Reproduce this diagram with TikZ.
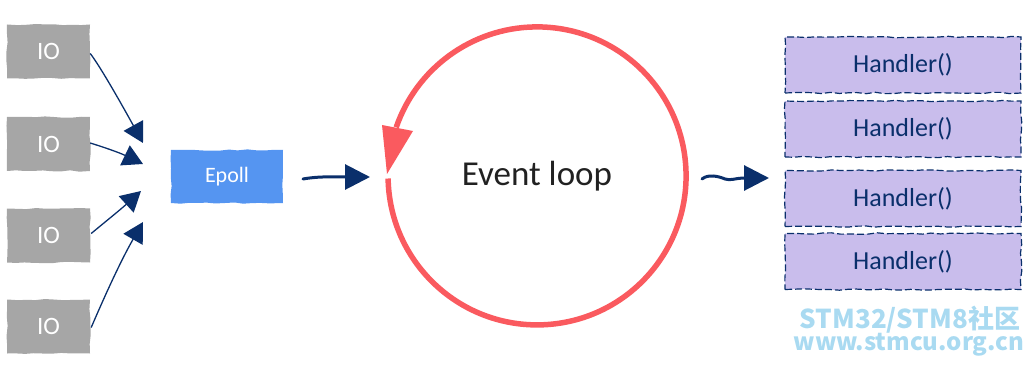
\documentclass[tikz,border=0pt]{standalone}
\usepackage{fontspec}
\setmainfont{Carlito}
\newfontfamily\cjkfont{Noto Sans CJK SC}
\usetikzlibrary{arrows.meta,decorations.pathmorphing}
\definecolor{iogray}{HTML}{A6A6A6}
\definecolor{epblue}{HTML}{5595F1}
\definecolor{loopred}{HTML}{FA5A5F}
\definecolor{navy}{HTML}{0A2F6B}
\definecolor{lavender}{HTML}{C9BDEC}
\definecolor{wmblue}{HTML}{A9DAF1}
\begin{document}
\pgfmathsetseed{7}
\begin{tikzpicture}[x=1pt,y=-1pt,
  rough/.style={decorate, decoration={random steps, segment length=9pt, amplitude=0.7pt}},
  iobox/.style={fill=iogray, rough, minimum width=83pt, minimum height=54pt, inner sep=0pt,
    text=white, font=\fontsize{25}{27}\selectfont},
  epbox/.style={fill=epblue, rough, minimum width=112pt, minimum height=53pt, inner sep=0pt,
    text=white, font=\fontsize{22}{24}\selectfont},
  hbox/.style={fill=lavender, draw=navy, line width=1.2pt, dash pattern=on 7pt off 3pt,
    rough, minimum width=236pt, minimum height=56pt, inner sep=0pt,
    text=navy, font=\fontsize{26}{28}\selectfont},
  thin arrow/.style={draw=navy, line width=1.3pt, -{Triangle[length=20pt,width=22pt]}},
  thick arrow/.style={draw=navy, line width=3pt, line cap=round, -{Triangle[length=25pt,width=25pt]}},
  wm/.style={text=wmblue, inner sep=0pt, anchor=base}
]
\useasboundingbox (0,0) rectangle (1030,366);

% IO boxes
\node[iobox] (io1) at (48.5,51.5) {IO};
\node[iobox] (io2) at (48.5,144) {IO};
\node[iobox] (io3) at (48.5,235.5) {IO};
\node[iobox] (io4) at (48.5,326.5) {IO};

% arrow tips toward Epoll
\coordinate (t1) at (143,143);
\coordinate (t2) at (143,164);
\coordinate (t3) at (141,191);
\coordinate (t4) at (143,222);

\draw[thin arrow] (io1.east) ++(0,2) .. controls (100,66) and (122,105) .. (t1);
\draw[thin arrow] (io2.east) ++(0,-1) .. controls (100,146) and (118,152) .. (t2);
\draw[thin arrow] (io3.east) ++(1,-2) .. controls (105,222) and (120,210) .. (t3);
\draw[thin arrow] (io4.east) ++(1,1) .. controls (103,300) and (120,262) .. (t4);

% Epoll
\node[epbox] (epoll) at (227,176.5) {Epoll};

% Event loop
\node[inner sep=0pt, text=black!87, font=\fontsize{35}{37}\selectfont] (loop) at (537,176) {Event loop};
\draw[loopred, line width=5.5pt] (388.1,178.5) arc[start angle=179, end angle=-161, radius=149];
\fill[loopred] (382,125) -- (413,131) -- (387,174) -- cycle;

% Epoll -> loop
\coordinate (a1s) at (303,179);
\coordinate (a1e) at (370,177);
\draw[thick arrow] (a1s) .. controls (320,176) and (335,177) .. (a1e);

% Handlers
\node[hbox] (h1) at (903,65) {Handler()};
\node[hbox] (h2) at (903,129) {Handler()};
\node[hbox] (h3) at (903,198.5) {Handler()};
\node[hbox] (h4) at (903,261.5) {Handler()};

% loop -> handlers
\coordinate (a2s) at (702,179);
\coordinate (a2e) at (769,178);
\draw[thick arrow] (a2s) .. controls (708,174) and (718,176) .. (725,179)
  .. controls (730,181) and (736,178) .. (a2e);

% watermark
\node[wm, text depth=0pt, font=\cjkfont\bfseries\fontsize{26}{28}\selectfont] (wm1) at (910,328) {STM32/STM8社区};
\node[wm, text height=13pt, font=\cjkfont\bfseries\fontsize{24}{26}\selectfont] (wm2) at (909,350) {www.stmcu.org.cn};
\end{tikzpicture}
\end{document}
